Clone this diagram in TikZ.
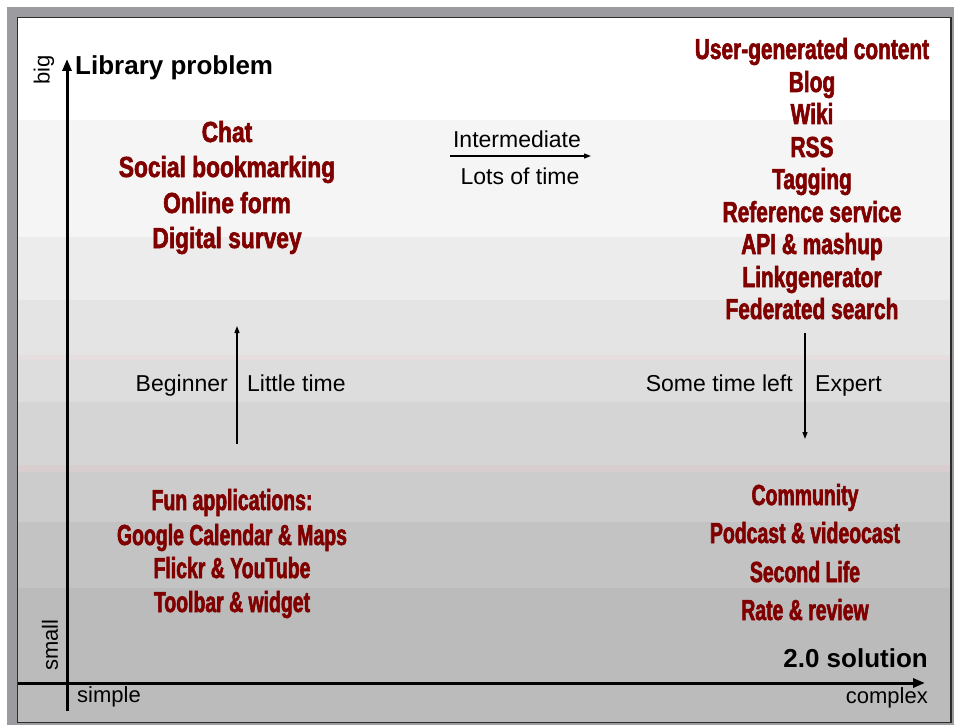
\documentclass[tikz,border=0pt]{standalone}
\usepackage{fontspec}
\setmainfont{Liberation Sans}
\newfontfamily\impA[FakeStretch=0.785,FakeBold=2]{Liberation Sans Bold}
\newfontfamily\impB[FakeStretch=0.72,FakeBold=2]{Liberation Sans Bold}
\newfontfamily\impC[FakeStretch=0.67,FakeBold=2]{Liberation Sans Bold}
\usetikzlibrary{arrows.meta}
\definecolor{dred}{RGB}{128,0,0}
\definecolor{framegray}{RGB}{155,155,160}
\definecolor{borderdark}{RGB}{45,45,45}
\definecolor{pinkA}{RGB}{230,221,222}
\definecolor{pinkB}{RGB}{216,206,208}
\tikzset{
  rt/.style={text=dred, anchor=base, inner sep=0pt},
  rtA/.style={rt, font=\impA\fontsize{29}{29}\selectfont},
  rtB/.style={rt, font=\impB\fontsize{29}{29}\selectfont},
  rtC/.style={rt, font=\impC\fontsize{29}{29}\selectfont},
  bt/.style={font=\fontsize{23}{23}\selectfont, anchor=base, inner sep=0pt, text=black},
  st/.style={font=\fontsize{22}{22}\selectfont, anchor=base, inner sep=0pt, text=black},
  bbt/.style={font=\bfseries\fontsize{26}{26}\selectfont, anchor=base, inner sep=0pt, text=black},
  axis/.style={line width=3pt, -{Triangle[length=12pt,width=9pt]}},
  thin/.style={line width=1.2pt, -{Triangle[length=7pt,width=5pt]}}
}
\begin{document}
\begin{tikzpicture}[x=1pt,y=-1pt]
\useasboundingbox (0,0) rectangle (954,725);
% frame
\fill[white] (0,0) rectangle (954,725);
\fill[framegray] (7,7) rectangle (954,725);
% bands
\fill[white] (18,18) rectangle (951,120);
\fill[black!4] (18,120) rectangle (951,237);
\fill[black!7.5] (18,237) rectangle (951,300);
\fill[black!10.5] (18,300) rectangle (951,355);
\fill[pinkA] (18,355) rectangle (951,360);
\fill[black!13.5] (18,360) rectangle (951,402);
\fill[black!16.5] (18,402) rectangle (951,465);
\fill[pinkB] (18,465) rectangle (951,472);
\fill[black!20] (18,472) rectangle (951,522);
\fill[black!23.5] (18,522) rectangle (951,588);
\fill[black!26.5] (18,588) rectangle (951,722);
\draw[borderdark, line width=1.5pt] (17.5,17.5) rectangle (951,722.5);
% axes
\coordinate (yb) at (67,711);
\coordinate (yt) at (67,59);
\coordinate (xl) at (18,683);
\coordinate (xr) at (925,683);
\draw[axis] (yb) -- (yt);
\draw[axis] (xl) -- (xr);
% axis labels
\node[bbt, anchor=base west] (lib) at (75,75) {Library problem};
\node[bbt, anchor=base east] (sol) at (928,667) {2.0 solution};
\node[st, anchor=base west] (simple) at (77,702) {simple};
\node[st, anchor=base east] (complex) at (928,703) {complex};
\node[st, anchor=center, rotate=90] (big) at (44,70) {big};
\node[st, anchor=center, rotate=90] (small) at (50,645) {small};
% transition labels
\node[bt] (inter) at (517,147) {Intermediate};
\node[bt] (lots) at (520,184) {Lots of time};
\coordinate (ia) at (450,156);
\coordinate (ib) at (591,156);
\draw[thin] (ia) -- (ib);
\node[bt, anchor=base east] (beg) at (228,391) {Beginner};
\node[bt, anchor=base west] (little) at (247,391) {Little time};
\coordinate (ua) at (237,444);
\coordinate (ub) at (237,326);
\draw[thin] (ua) -- (ub);
\node[bt, anchor=base east] (some) at (793,391) {Some time left};
\node[bt, anchor=base west] (expert) at (815,391) {Expert};
\coordinate (da) at (805,333);
\coordinate (db) at (805,439);
\draw[thin] (da) -- (db);
% red lists
\foreach \y/\t [count=\i] in {142/Chat, 177/Social bookmarking, 213/Online form, 248/Digital survey}{
  \node[rtA] (lt\i) at (227,\y) {\t};
}
\foreach \y/\t [count=\i] in {510/Fun applications:, 545/Google Calendar \& Maps, 578/Flickr \& YouTube, 612/Toolbar \& widget}{
  \node[rtC] (lb\i) at (232,\y) {\t};
}
\foreach \y/\t [count=\i] in {59/User-generated content, 92/Blog, 124/Wiki, 157/RSS, 189/Tagging, 222/Reference service, 254/API \& mashup, 287/Linkgenerator, 319/Federated search}{
  \node[rtB] (rt\i) at (812,\y) {\t};
}
\foreach \y/\t [count=\i] in {505/Community, 543/Podcast \& videocast, 582/Second Life, 620/Rate \& review}{
  \node[rtC] (rb\i) at (805,\y) {\t};
}
\end{tikzpicture}
\end{document}
